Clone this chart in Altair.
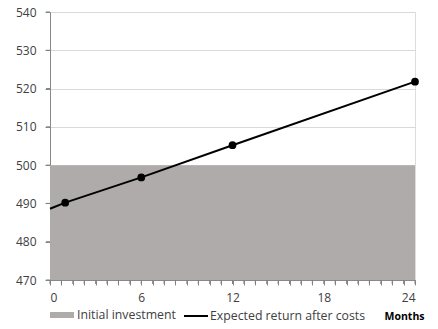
import altair as alt
import pandas as pd

# Data
invest_months = [0, 24]
invest_values = [500, 500]
invest_label = "Initial investment"

line_months = [0, 1, 6, 12, 24]
line_values = [488.6, 490.2, 496.8, 505.2, 521.8]
return_label = "Expected return after costs"
marker_months = [1, 6, 12, 24]

x_ticks = [i * 0.75 for i in range(33)]
y_ticks = [470, 480, 490, 500, 510, 520, 530, 540]

invest_df = pd.DataFrame({"month": invest_months, "value": invest_values, "series": invest_label})
line_df = pd.DataFrame({"month": line_months, "value": line_values, "series": return_label})
line_df["marker"] = line_df["month"].isin(marker_months)
xtick_df = pd.DataFrame({"month": x_ticks})
ytick_df = pd.DataFrame({"value": y_ticks})

FONT = "Open Sans"
LABEL_COLOR = "#404040"
AXIS_COLOR = "#7f7f7f"

x_scale = alt.Scale(domain=[0, 24], nice=False, zero=False)
y_scale = alt.Scale(domain=[470, 540], nice=False, zero=False)

x_axis = alt.Axis(
    values=x_ticks,
    labelExpr="datum.value % 6 == 0 ? datum.value : ''",
    labelOverlap=False,
    grid=False,
    labelPadding=7,
    labelColor=LABEL_COLOR,
    labelFontSize=12,
    labelFont=FONT,
    title="Months",
    titleFont=FONT,
    titleFontSize=10.5,
    titleFontWeight="bold",
    titleColor="#000000",
    titleAnchor="end",
    titleAlign="right",
    titleBaseline="middle",
    titleX=374,
    titleY=36,
)
y_axis = alt.Axis(
    values=y_ticks,
    labelOverlap=False,
    grid=True,
    gridColor="#d9d9d9",
    labelPadding=9,
    labelColor=LABEL_COLOR,
    labelFontSize=12,
    labelFont=FONT,
    title=None,
)

X = alt.X("month:Q", scale=x_scale, axis=x_axis)
Y = alt.Y("value:Q", scale=y_scale, axis=y_axis)

area = alt.Chart(invest_df).mark_area(opacity=1).encode(
    x=X,
    y=Y,
    y2=alt.datum(470),
    fill=alt.Fill(
        "series:N",
        scale=alt.Scale(domain=[invest_label], range=["#afabab"]),
        legend=alt.Legend(
            title=None,
            orient="none",
            legendX=0,
            legendY=291,
            symbolType="M-1,-0.25H1V0.25H-1Z",
            symbolSize=576,
            symbolStrokeWidth=0,
            labelFont=FONT,
            labelFontSize=12.3,
            labelColor=LABEL_COLOR,
            labelOffset=3,
        ),
    ),
)

line = alt.Chart(line_df).mark_line(strokeWidth=2).encode(
    x=X,
    y=Y,
    stroke=alt.Stroke(
        "series:N",
        scale=alt.Scale(domain=[return_label], range=["#000000"]),
        legend=alt.Legend(
            title=None,
            orient="none",
            legendX=133,
            legendY=291,
            symbolType="stroke",
            symbolSize=576,
            symbolStrokeWidth=2,
            labelFont=FONT,
            labelFontSize=12.3,
            labelColor=LABEL_COLOR,
            labelOffset=1,
        ),
    ),
)

points = alt.Chart(line_df).transform_filter("datum.marker").mark_circle(
    size=60, color="#000000", opacity=1
).encode(x=X, y=Y)

# axis tick marks (outside the plot)
xticks = alt.Chart(xtick_df).mark_rule(color=AXIS_COLOR, strokeWidth=1).encode(
    x=X,
    y=alt.value(268),
    y2=alt.value(272),
)
yticks = alt.Chart(ytick_df).mark_rule(color=AXIS_COLOR, strokeWidth=1).encode(
    y=Y,
    x=alt.value(-4),
    x2=alt.value(0),
)

chart = (
    alt.layer(area, line, points, xticks, yticks)
    .resolve_scale(fill="independent", stroke="independent")
    .properties(
        width=365,
        height=268,
        autosize=alt.AutoSizeParams(type="none"),
        padding={"left": 50, "top": 12, "right": 23, "bottom": 49},
    )
    .configure_view(stroke=None)
    .configure_axis(
        ticks=True,
        tickSize=4,
        tickColor="transparent",
        domain=True,
        domainColor=AXIS_COLOR,
    )
    .configure(background="white")
)

chart.save("out.html", embed_options={"renderer": "svg", "actions": False})
